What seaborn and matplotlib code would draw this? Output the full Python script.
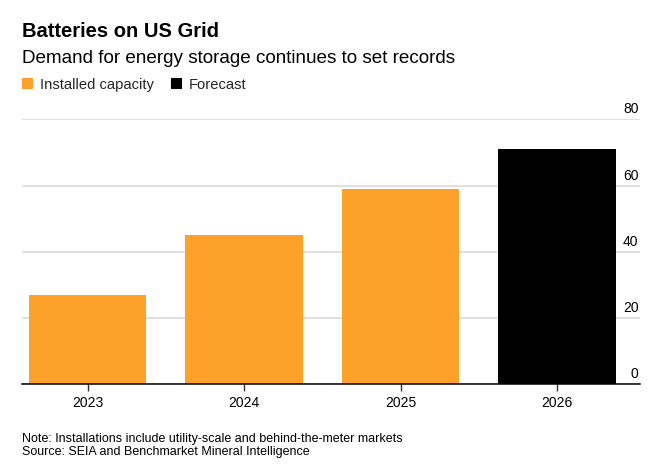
import matplotlib
matplotlib.use('Agg')
import matplotlib.pyplot as plt
import pandas as pd
import seaborn as sns
from matplotlib.lines import Line2D

# ── Data ─────────────────────────────────────────────────────────────────────
YEARS    = ['2023', '2024', '2025', '2026']
CAPACITY = [27, 45, 59, 71]
STATUS   = ['Installed capacity', 'Installed capacity', 'Installed capacity', 'Forecast']
Y_TICKS  = [0, 20, 40, 60, 80]

ORANGE = '#fda12b'
BLACK  = '#000000'
GRID   = '#e0e0e0'

df = pd.DataFrame({'year': YEARS, 'gwh': CAPACITY, 'status': STATUS})

# ── Figure ───────────────────────────────────────────────────────────────────
sns.set_theme(style='white')
plt.rcParams['font.family'] = ['Liberation Sans', 'DejaVu Sans']

W, H = 664, 477
fig = plt.figure(figsize=(W / 100, H / 100), dpi=100)
ax = fig.add_axes([22 / W, (H - 385.3) / H, 618 / W, 265 / H])

sns.barplot(data=df, x='year', y='gwh', hue='status', dodge=False,
            palette={'Installed capacity': ORANGE, 'Forecast': BLACK},
            width=0.75, saturation=1, edgecolor='none', linewidth=0,
            legend=False, ax=ax)

ax.set_xlim(-0.42, 3.53)
ax.set_ylim(0, 80)
ax.set_xlabel('')
ax.set_ylabel('')

# grid + spines
ax.set_yticks(Y_TICKS)
ax.set_yticklabels([])
ax.tick_params(axis='y', length=0)
ax.set_axisbelow(True)
ax.yaxis.grid(True, color=GRID, lw=1.4)
for side in ['top', 'right', 'left']:
    ax.spines[side].set_visible(False)
ax.spines['bottom'].set_color('#000000')
ax.spines['bottom'].set_linewidth(1.1)
ax.spines['bottom'].set_zorder(5)

ax.tick_params(axis='x', length=5, width=1, color='#333333', pad=3,
               labelsize=10, labelcolor='#000000', bottom=True)

# y labels sit above the gridlines at the right end
for v in Y_TICKS:
    ax.annotate(str(v), xy=(1, v), xycoords=('axes fraction', 'data'),
                xytext=(-1, 5), textcoords='offset points',
                ha='right', va='baseline', fontsize=10, color='#000000')

# ── Titles ───────────────────────────────────────────────────────────────────
fig.text(22 / W, (H - 36.7) / H, 'Batteries on US Grid', fontsize=14.5,
         fontweight='bold', va='baseline', ha='left', color='#000000')
fig.text(22 / W, (H - 63.3) / H, 'Demand for energy storage continues to set records',
         fontsize=13.6, va='baseline', ha='left', color='#000000')

handles = [
    Line2D([], [], ls='none', marker='s', ms=7, mfc=ORANGE, mec=ORANGE,
           mew=0.8, label='Installed capacity'),
    Line2D([], [], ls='none', marker='s', ms=7, mfc=BLACK, mec=BLACK,
           mew=0.8, label='Forecast'),
]
fig.legend(handles=handles, loc='upper left', bbox_to_anchor=(16 / W, (H - 74) / H),
           ncol=2, frameon=False, fontsize=10.6, handlelength=0.9,
           handletextpad=0.45, columnspacing=1.0, borderaxespad=0, borderpad=0.3)

# ── Footnotes ────────────────────────────────────────────────────────────────
fig.text(22 / W, (H - 442.0) / H,
         'Note: Installations include utility-scale and behind-the-meter markets',
         fontsize=9.0, va='baseline', ha='left', color='#000000')
fig.text(22 / W, (H - 455.0) / H,
         'Source: SEIA and Benchmarket Mineral Intelligence',
         fontsize=9.0, va='baseline', ha='left', color='#000000')

fig.savefig('out.png', dpi=100, facecolor='white')
plt.close(fig)
